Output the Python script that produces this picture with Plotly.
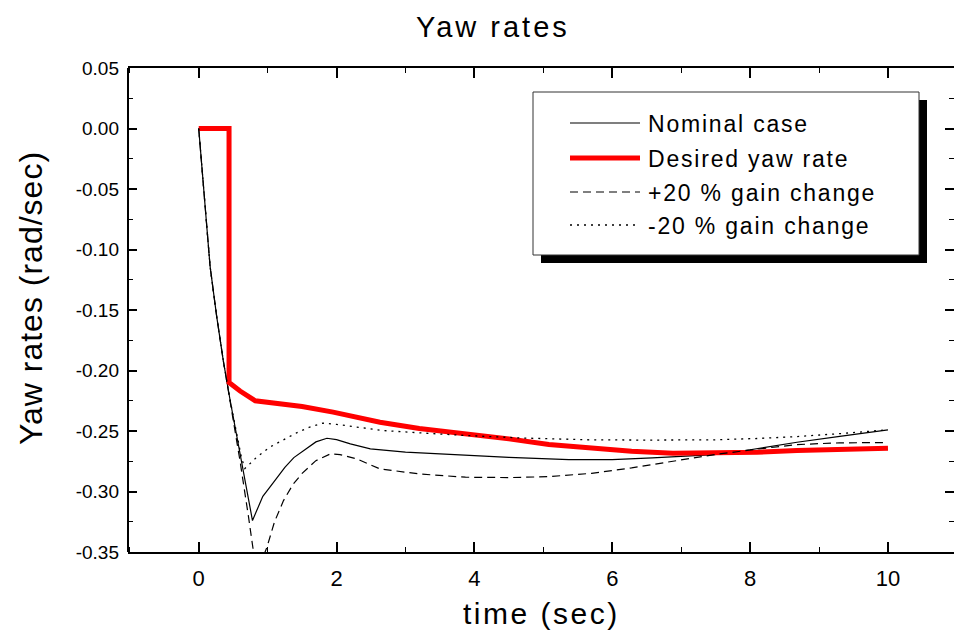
import plotly.graph_objects as go

# ---------------- data ----------------
t_nominal = [0, 0.067, 0.165, 0.26, 0.357, 0.457, 0.6, 0.72, 0.78, 0.84, 0.93, 1.03, 1.15, 1.25,
             1.38, 1.52, 1.7, 1.86, 2.0, 2.2, 2.49, 3.0, 3.87, 4.5, 5.37, 6.0, 6.58, 7.0, 7.48,
             8.0, 8.68, 9.3, 10]
y_nominal = [0, -0.045, -0.114, -0.155, -0.192, -0.225, -0.269, -0.3075, -0.324, -0.316, -0.304,
             -0.2965, -0.288, -0.280, -0.272, -0.2661, -0.259, -0.256, -0.2572, -0.2606, -0.2648,
             -0.2675, -0.2703, -0.2718, -0.2736, -0.2737, -0.2722, -0.271, -0.2695, -0.2655,
             -0.2593, -0.2545, -0.249]

t_desired = [0, 0.44, 0.44, 0.6, 0.82, 1.13, 1.5, 1.95, 2.63, 3.2, 3.87, 4.5, 5.08, 5.7, 6.28,
             6.88, 7.48, 8.1, 8.68, 9.3, 10]
y_desired = [0, 0, -0.21, -0.217, -0.225, -0.2275, -0.2297, -0.2344, -0.2427, -0.248, -0.2523,
             -0.2565, -0.2612, -0.2645, -0.2667, -0.2684, -0.2684, -0.2675, -0.2661, -0.2652,
             -0.2642]

t_plus = [0, 0.067, 0.165, 0.26, 0.357, 0.457, 0.6, 0.72, 0.8, 0.88, 0.99, 1.1, 1.23, 1.37, 1.5,
          1.7, 1.91, 2.05, 2.29, 2.63, 3.2, 3.87, 4.5, 5.08, 5.7, 6.28, 6.9, 7.48, 8.1, 8.68,
          9.3, 10]
y_plus = [0, -0.045, -0.114, -0.155, -0.192, -0.226, -0.275, -0.32, -0.352, -0.362, -0.346,
          -0.325, -0.3075, -0.294, -0.285, -0.2745, -0.2689, -0.2695, -0.273, -0.2813, -0.2855,
          -0.2882, -0.2885, -0.2877, -0.285, -0.2805, -0.275, -0.2695, -0.265, -0.2612, -0.2598,
          -0.2595]

t_minus = [0, 0.067, 0.165, 0.26, 0.357, 0.457, 0.56, 0.62, 0.67, 0.75, 0.84, 1.03, 1.2, 1.42,
           1.6, 1.8, 2.0, 2.29, 2.67, 3.2, 3.87, 4.7, 5.68, 6.5, 7.48, 8.1, 8.68, 9.3, 10]
y_minus = [0, -0.045, -0.114, -0.155, -0.192, -0.225, -0.255, -0.272, -0.281, -0.277, -0.2717,
           -0.2634, -0.258, -0.2515, -0.247, -0.2435, -0.2445, -0.2469, -0.2496, -0.2515,
           -0.2537, -0.2558, -0.2573, -0.2575, -0.2573, -0.2562, -0.2546, -0.2522, -0.249]

series_names = ["Nominal case", "Desired yaw rate", "+20 % gain change", "-20 % gain change"]

x_tickvals = [0, 2, 4, 6, 8, 10]
x_ticktext = ["0", "2", "4", "6", "8", "10"]
y_tickvals = [0.05, 0.00, -0.05, -0.10, -0.15, -0.20, -0.25, -0.30, -0.35]
y_ticktext = ["0.05", "0.00", "-0.05", "-0.10", "-0.15", "-0.20", "-0.25", "-0.30", "-0.35"]

# ---------------- styles ----------------
W, H = 954, 637
ML, MR, MT, MB = 128, 0, 68, 85
PW, PH = W - ML - MR, H - MT - MB

styles = [
    dict(color="black", width=1.2, dash="solid"),
    dict(color="#ff0000", width=5, dash="solid"),
    dict(color="black", width=1.2, dash="8px,5px"),
    dict(color="black", width=1.3, dash="2px,5px"),
]
FONT = "Liberation Sans, Arial, sans-serif"
NARROW = "Liberation Sans Narrow, Arial Narrow, Liberation Sans, sans-serif"


def px(xpix):
    return (xpix - ML) / PW


def py(ypix):
    return (H - MB - ypix) / PH


def spaced(text, ls):
    return f'<span style="letter-spacing:{ls}px">{text}</span>'


fig = go.Figure()
data = [(t_nominal, y_nominal), (t_desired, y_desired), (t_plus, y_plus), (t_minus, y_minus)]
for (tx, ty), name, st in zip(data, series_names, styles):
    fig.add_trace(go.Scatter(x=tx, y=ty, mode="lines", name=name, line=st,
                             showlegend=False, cliponaxis=True))

fig.update_xaxes(range=[-1.026, 10.958], tickvals=x_tickvals, ticktext=x_ticktext,
                 showgrid=False, zeroline=False, showline=True, linecolor="black",
                 linewidth=2, mirror="ticks", ticks="inside", tickcolor="black",
                 ticklen=10, tickwidth=1.5,
                 tickfont=dict(family=NARROW, size=22, color="black"),
                 minor=dict(dtick=1, tick0=0, ticks="inside", ticklen=5, tickwidth=1.2,
                            tickcolor="black"),
                 ticklabelstandoff=6)
# y axis: ticks on both sides, but the right-hand frame line lies beyond the picture edge
fig.update_yaxes(range=[-0.35, 0.05], tickvals=y_tickvals, ticktext=y_ticktext,
                 showgrid=False, zeroline=False, showline=False,
                 mirror="ticks", ticks="inside", tickcolor="black",
                 ticklen=9, tickwidth=1.5,
                 tickfont=dict(family=FONT, size=19, color="black"),
                 minor=dict(dtick=0.025, tick0=0, ticks="inside", ticklen=5, tickwidth=1.2,
                            tickcolor="black"),
                 ticklabelstandoff=8)

shapes = []
# left frame line
shapes.append(dict(type="line", xref="paper", yref="paper", x0=0, x1=0, y0=0, y1=1,
                   line=dict(color="black", width=2)))
# legend shadow and box
shapes.append(dict(type="rect", xref="paper", yref="paper", x0=px(541), x1=px(927),
                   y0=py(263), y1=py(100), fillcolor="black", line=dict(width=0)))
shapes.append(dict(type="rect", xref="paper", yref="paper", x0=px(533), x1=px(919),
                   y0=py(255), y1=py(92), fillcolor="white",
                   line=dict(color="#333333", width=1)))
annotations = []
rows = [123, 158, 192, 225]
for rowy, name, st in zip(rows, series_names, styles):
    shapes.append(dict(type="line", xref="paper", yref="paper", x0=px(570), x1=px(640),
                       y0=py(rowy), y1=py(rowy), line=st))
    annotations.append(dict(text=spaced(name, 1.8), xref="paper", yref="paper", x=px(646),
                            y=py(rowy + 1), xanchor="left", yanchor="middle", showarrow=False,
                            font=dict(family=FONT, size=23, color="black")))

# titles
annotations.append(dict(text=spaced("Yaw rates", 3), xref="paper", yref="paper",
                        x=px(493), y=py(27), xanchor="center", yanchor="middle",
                        showarrow=False, font=dict(family=FONT, size=29, color="black")))
annotations.append(dict(text=spaced("time (sec)", 2.5), xref="paper", yref="paper",
                        x=px(541), y=py(613), xanchor="center", yanchor="middle",
                        showarrow=False, font=dict(family=FONT, size=30, color="black")))
annotations.append(dict(text=spaced("Yaw rates (rad/sec)", 1), xref="paper", yref="paper",
                        x=px(31), y=py(298), xanchor="center", yanchor="middle", textangle=-90,
                        showarrow=False, font=dict(family=FONT, size=32, color="black")))

fig.update_layout(width=W, height=H, margin=dict(l=ML, r=MR, t=MT, b=MB, pad=0),
                  paper_bgcolor="white", plot_bgcolor="white", showlegend=False,
                  shapes=shapes, annotations=annotations)

fig.write_html("out.html")
